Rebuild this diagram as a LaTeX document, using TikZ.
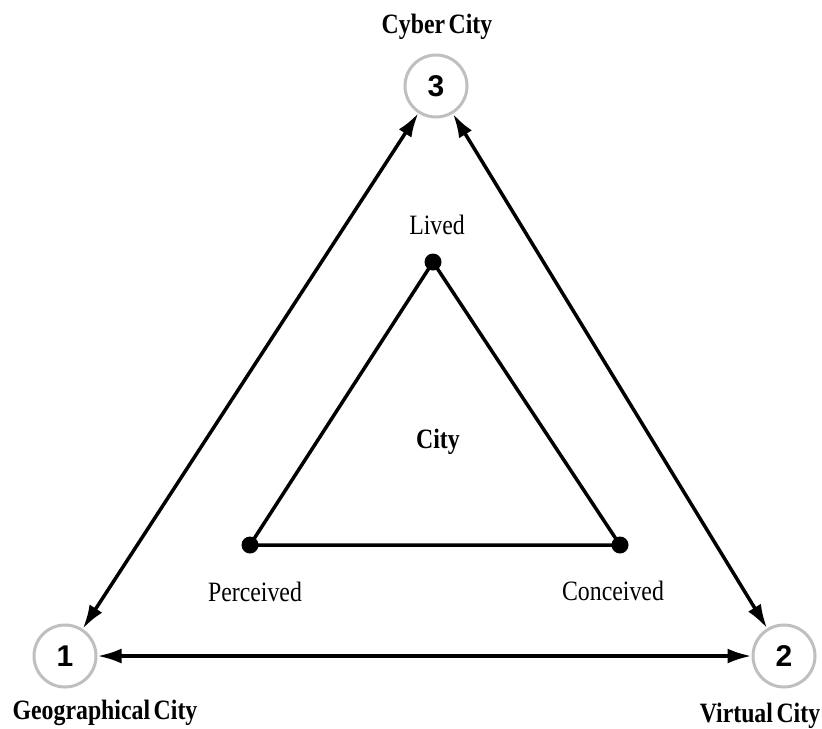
\documentclass[tikz,border=0pt]{standalone}
\usepackage{fontspec}
\setmainfont{Liberation Serif}[FakeStretch=0.85, WordSpace=0.6]
\newfontfamily\numfont{Liberation Sans}
\usetikzlibrary{arrows.meta}

\begin{document}
\begin{tikzpicture} [x=0.5pt, y=-0.5pt,
 city/.style = {circle, draw=black!25, line width=1.5pt, minimum size=31pt,
 inner sep=0pt, font=\numfont\bfseries\fontsize{15}{15}\selectfont},
 cityname/.style = {font=\bfseries\fontsize{14}{15}\selectfont},
 pole/.style = {circle, fill, inner sep=0pt, minimum size=8.5pt},
 polename/.style = {font=\fontsize{14}{15}\selectfont},
 link/.style = {line width=1.75pt, {Latex[length=12pt,width=7.5pt]}-{Latex[length=12pt,width=7.5pt]}}]
 \useasboundingbox (0,0) rectangle (822,728);

 % outer triangle
 \node (cyber) [city] at (436,86) {3};
 \node (geo) [city] at (65,656) {1};
 \node (virtual) [city] at (784,656) {2};
 \node (cybername) [cityname] at (437,27) {Cyber City};
 \node (geoname) [cityname] at (105,713) {Geographical City};
 \node (virtualname) [cityname] at (760,716) {Virtual City};

 \draw [link] (geo) -- (cyber);
 \draw [link] (cyber) -- (virtual);
 \draw [link] (geo) -- (virtual);

 % inner triangle
 \node (lived) [pole] at (433,262) {};
 \node (perceived) [pole] at (250,545) {};
 \node (conceived) [pole] at (620,545) {};
 \node (livedname) [polename] at (437,225) {Lived};
 \node (perceivedname) [polename] at (255,592) {Perceived};
 \node (conceivedname) [polename] at (613,591) {Conceived};
 \node (city) [cityname] at (438,442) {City};

 \draw [line width=1.75pt] (lived.center) -- (conceived.center) -- (perceived.center) -- cycle;
\end{tikzpicture}
\end{document}
